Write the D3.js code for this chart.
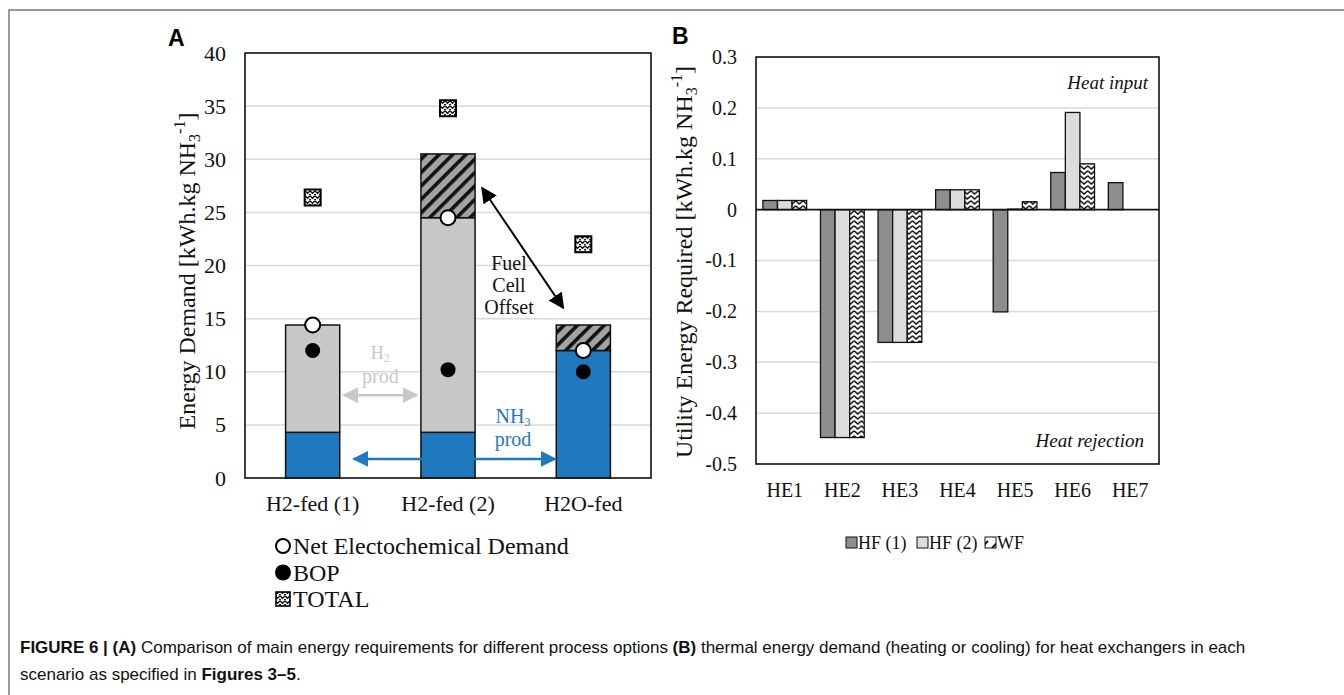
<!DOCTYPE html>
<html><head><meta charset="utf-8">
<script src="https://cdn.jsdelivr.net/npm/d3@7"></script>
<style>
html,body{margin:0;padding:0;background:#fff;}
svg{display:block;}
.serif{font-family:"Liberation Serif","Times New Roman",serif;}
</style></head>
<body>
<svg id="chart" width="1344" height="695"></svg>
<script>
// ---------- Panel A data ----------
const catsA = ["H2-fed (1)", "H2-fed (2)", "H2O-fed"];
const nh3Prod = [4.3, 4.3, 12.0];
const h2Prod = [10.1, 20.2, 0];
const fuelCell = [0, 6.0, 2.4];
const netEchem = [14.4, 24.5, 12.0];
const bop = [12.0, 10.2, 10.0];
const total = [26.4, 34.8, 22.0];
const ticksA = [0, 5, 10, 15, 20, 25, 30, 35, 40];

// ---------- Panel B data ----------
const catsB = ["HE1", "HE2", "HE3", "HE4", "HE5", "HE6", "HE7"];
const seriesB = ["HF (1)", "HF (2)", "WF"];
const hf1 = [0.018, -0.448, -0.261, 0.039, -0.201, 0.073, 0.053];
const hf2 = [0.018, -0.448, -0.261, 0.039, 0.001, 0.191, 0];
const wf  = [0.018, -0.448, -0.261, 0.039, 0.0155, 0.090, 0];
const ticksB = [-0.5, -0.4, -0.3, -0.2, -0.1, 0, 0.1, 0.2, 0.3];
const tickLabelsB = ["-0.5", "-0.4", "-0.3", "-0.2", "-0.1", "0", "0.1", "0.2", "0.3"];

const BLUE = "#1f79be", GREY = "#c8c8c8", GRID = "#d9d9d9";
const svg = d3.select("#chart");
const defs = svg.append("defs");

// patterns
const hatch = defs.append("pattern").attr("id", "hatch").attr("patternUnits", "userSpaceOnUse")
  .attr("width", 9.5).attr("height", 9.5).attr("patternTransform", "rotate(45)");
hatch.append("rect").attr("width", 9.5).attr("height", 9.5).attr("fill", "#a3a3a3");
hatch.append("rect").attr("width", 3.6).attr("height", 9.5).attr("fill", "#111");

const chk = defs.append("pattern").attr("id", "chk").attr("patternUnits", "userSpaceOnUse")
  .attr("width", 5).attr("height", 5);
chk.append("rect").attr("width", 5).attr("height", 5).attr("fill", "#fff");
chk.append("path").attr("d", "M0,0.8 L2.5,3.3 L5,0.8 M0,4.2 L0.8,5 M4.2,5 L5,4.2").attr("stroke", "#111").attr("stroke-width", 1.4).attr("fill", "none");

const zig = defs.append("pattern").attr("id", "zig").attr("patternUnits", "userSpaceOnUse")
  .attr("width", 7.3).attr("height", 5);
zig.append("rect").attr("width", 7.3).attr("height", 5).attr("fill", "#fff");
zig.append("path").attr("d", "M0,0.8 L3.65,4 L7.3,0.8").attr("stroke", "#111").attr("stroke-width", 1.6).attr("fill", "none");

const diag = defs.append("pattern").attr("id", "diag").attr("patternUnits", "userSpaceOnUse")
  .attr("width", 11).attr("height", 11);
diag.append("rect").attr("width", 11).attr("height", 11).attr("fill", "#fff");
diag.append("path").attr("d", "M2,9 L9,2").attr("stroke", "#111").attr("stroke-width", 1.8);

function marker(id, color) {
  defs.append("marker").attr("id", id).attr("viewBox", "0 0 10 10")
    .attr("refX", 9).attr("refY", 5).attr("markerUnits", "userSpaceOnUse")
    .attr("markerWidth", 16).attr("markerHeight", 16).attr("orient", "auto-start-reverse")
    .append("path").attr("d", "M0,0 L10,5 L0,10 Z").attr("fill", color);
}
marker("arBlack", "#000"); marker("arGrey", GREY); marker("arBlue", BLUE);

// frame
svg.append("path").attr("d", "M1344,10 H9 V695").attr("fill", "none").attr("stroke", "#777").attr("stroke-width", 1.5);

// ================= Panel A =================
const xA = d3.scaleBand().domain(catsA).range([245, 651]).paddingInner(0.6).paddingOuter(0.3);
const yA = d3.scaleLinear().domain([0, 40]).range([478, 53]);
const gA = svg.append("g").attr("class", "serif");

gA.selectAll(".gridA").data(ticksA.slice(1, -1)).join("line")
  .attr("x1", 245).attr("x2", 651).attr("y1", d => yA(d)).attr("y2", d => yA(d))
  .attr("stroke", GRID).attr("stroke-width", 1.5);

const axA = gA.append("g").attr("transform", "translate(245,0)")
  .call(d3.axisLeft(yA).tickValues(ticksA).tickSize(0).tickPadding(19));
axA.select(".domain").remove();
axA.selectAll("text").attr("font-size", 22).attr("font-family", "Liberation Serif").attr("fill", "#111");

const stacksA = catsA.map((c, i) => [
  { c, y0: 0, y1: nh3Prod[i], fill: BLUE },
  { c, y0: nh3Prod[i], y1: nh3Prod[i] + h2Prod[i], fill: GREY },
  { c, y0: nh3Prod[i] + h2Prod[i], y1: nh3Prod[i] + h2Prod[i] + fuelCell[i], fill: "url(#hatch)" }
]).flat().filter(d => d.y1 > d.y0);
gA.selectAll(".barA").data(stacksA).join("rect")
  .attr("x", d => xA(d.c)).attr("width", xA.bandwidth())
  .attr("y", d => yA(d.y1)).attr("height", d => yA(d.y0) - yA(d.y1))
  .attr("fill", d => d.fill).attr("stroke", "#111").attr("stroke-width", 1.5);

// plot frame
gA.append("rect").attr("x", 245).attr("y", 53).attr("width", 406).attr("height", 425)
  .attr("fill", "none").attr("stroke", "#111").attr("stroke-width", 1.6);

// annotations
const bw = xA.bandwidth();
gA.append("line").attr("x1", xA(catsA[0]) + bw + 4).attr("x2", xA(catsA[1]) - 4)
  .attr("y1", yA(7.8)).attr("y2", yA(7.8)).attr("stroke", GREY).attr("stroke-width", 2.5)
  .attr("marker-start", "url(#arGrey)").attr("marker-end", "url(#arGrey)");
const h2t = gA.append("text").attr("x", (xA(catsA[0]) + bw + xA(catsA[1])) / 2).attr("y", yA(11.2))
  .attr("text-anchor", "middle").attr("font-size", 18).attr("fill", GREY);
h2t.append("tspan").text("H");
h2t.append("tspan").attr("font-size", 12).attr("dy", 3).text("2");
gA.append("text").attr("x", (xA(catsA[0]) + bw + xA(catsA[1])) / 2).attr("y", yA(8.9))
  .attr("text-anchor", "middle").attr("font-size", 20).attr("fill", GREY).text("prod");

gA.append("line").attr("x1", xA(catsA[0]) + bw + 14).attr("x2", xA(catsA[2]) - 1)
  .attr("y1", yA(1.8)).attr("y2", yA(1.8)).attr("stroke", BLUE).attr("stroke-width", 2.5)
  .attr("marker-start", "url(#arBlue)").attr("marker-end", "url(#arBlue)");
const nht = gA.append("text").attr("x", 513).attr("y", yA(5.2))
  .attr("text-anchor", "middle").attr("font-size", 20).attr("fill", BLUE);
nht.append("tspan").text("NH");
nht.append("tspan").attr("font-size", 12).attr("dy", 3).text("3");
gA.append("text").attr("x", 513).attr("y", yA(3.0))
  .attr("text-anchor", "middle").attr("font-size", 20).attr("fill", BLUE).text("prod");

gA.append("line").attr("x1", xA(catsA[1]) + bw + 7).attr("y1", yA(27.3))
  .attr("x2", xA(catsA[2]) + 7).attr("y2", yA(16.0)).attr("stroke", "#000").attr("stroke-width", 2)
  .attr("marker-start", "url(#arBlack)").attr("marker-end", "url(#arBlack)");
["Fuel", "Cell", "Offset"].forEach((t, i) => {
  gA.append("text").attr("x", 509).attr("y", yA([19.6, 17.5, 15.4][i]))
    .attr("text-anchor", "middle").attr("font-size", 20).attr("fill", "#111").text(t);
});

// points
const cx = i => xA(catsA[i]) + bw / 2;
gA.selectAll(".bop").data(bop).join("circle")
  .attr("cx", (d, i) => cx(i)).attr("cy", d => yA(d)).attr("r", 7.5).attr("fill", "#000");
gA.selectAll(".net").data(netEchem).join("circle")
  .attr("cx", (d, i) => cx(i)).attr("cy", d => yA(d)).attr("r", 7.5)
  .attr("fill", "#fff").attr("stroke", "#000").attr("stroke-width", 2);
gA.selectAll(".tot").data(total).join("rect")
  .attr("x", (d, i) => cx(i) - 8).attr("y", d => yA(d) - 8).attr("width", 16).attr("height", 16)
  .attr("fill", "url(#chk)").attr("stroke", "#000").attr("stroke-width", 2);

// x labels
gA.selectAll(".xlA").data(catsA).join("text")
  .attr("x", d => xA(d) + bw / 2).attr("y", 511).attr("text-anchor", "middle")
  .attr("font-size", 22).attr("fill", "#111").text(d => d);

// y title
const ytA = gA.append("text").attr("transform", "translate(195,271) rotate(-90)")
  .attr("text-anchor", "middle").attr("font-size", 24).attr("fill", "#111");
ytA.append("tspan").text("Energy Demand [kWh.kg NH");
ytA.append("tspan").attr("font-size", 16).attr("dy", 5).text("3");
ytA.append("tspan").attr("font-size", 16).attr("dy", -15).text("-1");
ytA.append("tspan").attr("dy", 10).text("]");

// legend A
const legA = [
  { t: "Net Electochemical Demand", k: "net" },
  { t: "BOP", k: "bop" },
  { t: "TOTAL", k: "tot" }
];
legA.forEach((d, i) => {
  const y = 546 + i * 26.5;
  if (d.k === "net") gA.append("circle").attr("cx", 283).attr("cy", y).attr("r", 7).attr("fill", "#fff").attr("stroke", "#000").attr("stroke-width", 2);
  if (d.k === "bop") gA.append("circle").attr("cx", 283).attr("cy", y).attr("r", 8).attr("fill", "#000");
  if (d.k === "tot") gA.append("rect").attr("x", 276).attr("y", y - 7).attr("width", 14).attr("height", 14).attr("fill", "url(#chk)").attr("stroke", "#000").attr("stroke-width", 1.6);
  gA.append("text").attr("x", 293).attr("y", y + 8).attr("font-size", 24).attr("fill", "#111").text(d.t);
});

// panel letter
svg.append("text").attr("x", 168).attr("y", 46).attr("font-family", "Liberation Sans, Arial, sans-serif")
  .attr("font-weight", "bold").attr("font-size", 23).text("A");

// ================= Panel B =================
const xB = d3.scaleBand().domain(catsB).range([756, 1159]).paddingInner(0.24).paddingOuter(0.12);
const x1 = d3.scaleBand().domain(seriesB).range([0, xB.bandwidth()]);
const yB = d3.scaleLinear().domain([-0.5, 0.3]).range([464, 57]);
const gB = svg.append("g").attr("class", "serif");

gB.selectAll(".gridB").data(ticksB.filter(t => t !== 0 && t !== 0.3 && t !== -0.5)).join("line")
  .attr("x1", 756).attr("x2", 1159).attr("y1", d => yB(d)).attr("y2", d => yB(d))
  .attr("stroke", GRID).attr("stroke-width", 1.5);

const axB = gB.append("g").attr("transform", "translate(756,0)")
  .call(d3.axisLeft(yB).tickValues(ticksB).tickFormat((d, i) => tickLabelsB[i]).tickSize(0).tickPadding(19));
axB.select(".domain").remove();
axB.selectAll("text").attr("font-size", 20).attr("font-family", "Liberation Serif").attr("fill", "#111");

const valsB = [hf1, hf2, wf];
const fillsB = ["#8e8e8e", "#dcdcdc", "url(#zig)"];
const barsB = [];
catsB.forEach((c, i) => seriesB.forEach((s, j) => {
  const v = valsB[j][i];
  if (v !== 0) barsB.push({ c, s, v, fill: fillsB[j] });
}));
gB.selectAll(".barB").data(barsB).join("rect")
  .attr("x", d => xB(d.c) + x1(d.s)).attr("width", x1.bandwidth())
  .attr("y", d => yB(Math.max(0, d.v))).attr("height", d => Math.abs(yB(d.v) - yB(0)))
  .attr("fill", d => d.fill).attr("stroke", "#111").attr("stroke-width", 1.3);

gB.append("line").attr("x1", 756).attr("x2", 1159).attr("y1", yB(0)).attr("y2", yB(0))
  .attr("stroke", "#111").attr("stroke-width", 1.6);
gB.append("rect").attr("x", 756).attr("y", 57).attr("width", 403).attr("height", 407)
  .attr("fill", "none").attr("stroke", "#111").attr("stroke-width", 1.6);

gB.selectAll(".xlB").data(catsB).join("text")
  .attr("x", d => xB(d) + xB.bandwidth() / 2).attr("y", 497).attr("text-anchor", "middle")
  .attr("font-size", 20).attr("fill", "#111").text(d => d);

gB.append("text").attr("x", 1148).attr("y", 89).attr("text-anchor", "end").attr("font-style", "italic")
  .attr("font-size", 19).attr("fill", "#111").text("Heat input");
gB.append("text").attr("x", 1144).attr("y", 447).attr("text-anchor", "end").attr("font-style", "italic")
  .attr("font-size", 19).attr("fill", "#111").text("Heat rejection");

const ytB = gB.append("text").attr("transform", "translate(692,262) rotate(-90)")
  .attr("text-anchor", "middle").attr("font-size", 24).attr("fill", "#111");
ytB.append("tspan").text("Utility Energy Required [kWh.kg NH");
ytB.append("tspan").attr("font-size", 16).attr("dy", 5).text("3");
ytB.append("tspan").attr("font-size", 16).attr("dy", -15).text("-1");
ytB.append("tspan").attr("dy", 10).text("]");

// legend B
const legBx = [846, 917, 985];
seriesB.forEach((s, j) => {
  gB.append("rect").attr("x", legBx[j]).attr("y", 537).attr("width", 11).attr("height", 11)
    .attr("fill", j === 2 ? "url(#diag)" : fillsB[j]).attr("stroke", "#111").attr("stroke-width", 1);
  gB.append("text").attr("x", legBx[j] + 12).attr("y", 549).attr("font-size", 18).attr("fill", "#111").text(s);
});

svg.append("text").attr("x", 672).attr("y", 44).attr("font-family", "Liberation Sans, Arial, sans-serif")
  .attr("font-weight", "bold").attr("font-size", 23).text("B");

// ================= Caption =================
const cap = svg.append("text").attr("font-family", "Liberation Sans, Arial, sans-serif").attr("font-size", 17).attr("fill", "#111");
const l1 = cap.append("tspan").attr("x", 20).attr("y", 653);
l1.append("tspan").attr("font-weight", "bold").text("FIGURE 6 | (A)");
l1.append("tspan").text(" Comparison of main energy requirements for different process options ");
l1.append("tspan").attr("font-weight", "bold").text("(B)");
l1.append("tspan").text(" thermal energy demand (heating or cooling) for heat exchangers in each");
const l2 = cap.append("tspan").attr("x", 20).attr("y", 680);
l2.append("tspan").text("scenario as specified in ");
l2.append("tspan").attr("font-weight", "bold").text("Figures 3–5");
l2.append("tspan").text(".");
</script>
</body></html>
